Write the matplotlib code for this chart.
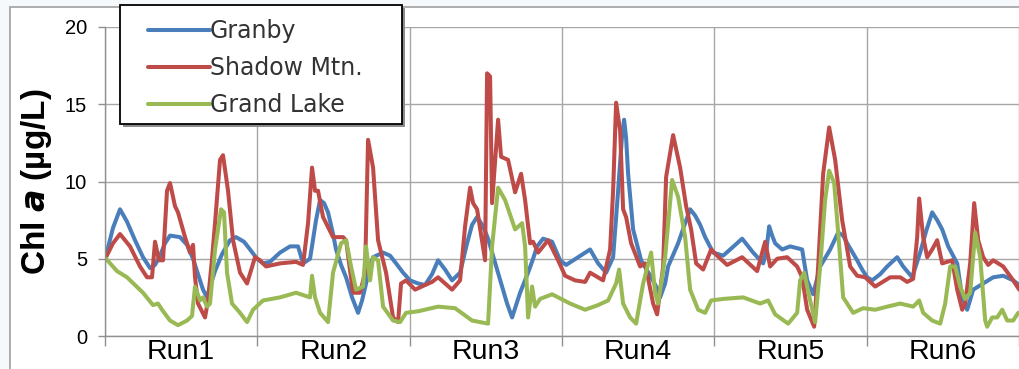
import numpy as np
import matplotlib
matplotlib.use("Agg")
import matplotlib.pyplot as plt
from matplotlib.patches import Rectangle

# sample index along the sequence of six runs (~152 samples per run)
run_len = 152.3
run_names = ["Run1", "Run2", "Run3", "Run4", "Run5", "Run6"]

granby_x = [1, 8, 15, 22, 30, 38, 45, 50, 55, 60,
            65, 75, 82, 88, 93, 98, 102, 105, 110, 117,
            125, 131, 139, 145, 152, 158, 165, 175, 185, 193,
            198, 205, 211, 215, 219, 223, 228, 231, 236, 241,
            247, 253, 257, 261, 265, 268, 278, 285, 291, 298,
            305, 313, 320, 327, 333, 340, 347, 355, 362, 367,
            372, 378, 383, 387, 392, 397, 402, 407, 411, 415,
            423, 428, 432, 438, 447, 455, 461, 473, 485, 493,
            501, 508, 513, 517, 519, 521, 523, 528, 536, 546,
            551, 555, 560, 563, 573, 580, 585, 590, 595, 600,
            608, 618, 625, 637, 648, 658, 661, 664, 667, 670,
            677, 685, 697, 702, 708, 715, 725, 733, 738, 742,
            752, 757, 762, 767, 775, 782, 792, 798, 807, 815,
            821, 827, 832, 837, 843, 852, 857, 862, 868, 878,
            888, 898, 908, 914]
granby = [5.2, 7.0, 8.2, 7.4, 6.2, 5.1, 4.4, 4.6, 5.2, 6.0,
          6.5, 6.4, 5.9, 5.0, 4.0, 3.0, 2.5, 3.2, 4.2, 5.3,
          6.2, 6.4, 6.1, 5.6, 5.0, 4.7, 4.8, 5.4, 5.8, 5.8,
          4.7, 5.0, 7.5, 8.8, 8.6, 8.0, 6.6, 5.6, 4.6, 3.8,
          2.5, 1.5, 2.3, 3.4, 4.5, 5.1, 5.4, 5.2, 4.7, 4.1,
          3.6, 3.4, 3.3, 4.0, 4.9, 4.3, 3.6, 4.1, 6.0, 7.2,
          7.7, 7.1, 6.3, 5.4, 4.3, 3.2, 2.1, 1.2, 2.0, 2.8,
          4.1, 5.0, 5.8, 6.3, 6.1, 4.9, 4.6, 5.1, 5.6, 4.7,
          4.1, 5.1, 9.4, 13.0, 14.0, 12.8, 10.5, 6.9, 4.9, 3.8,
          3.2, 2.5, 3.4, 4.5, 6.0, 7.3, 8.2, 7.8, 7.2, 6.4,
          5.4, 5.2, 5.6, 6.3, 5.4, 4.7, 5.4, 7.1, 6.5, 6.0,
          5.6, 5.8, 5.6, 3.6, 2.7, 4.5, 5.6, 6.7, 6.5, 6.0,
          4.9, 4.3, 3.8, 3.6, 4.0, 4.5, 5.1, 4.5, 3.8, 5.4,
          6.8, 8.0, 7.5, 6.9, 5.8, 4.7, 2.5, 1.7, 3.0, 3.4,
          3.8, 3.9, 3.6, 3.3]

shadow_x = [1, 8, 15, 25, 35, 42, 47, 50, 54, 58,
            62, 65, 70, 73, 80, 85, 88, 90, 93, 100,
            103, 107, 110, 115, 118, 123, 128, 135, 142, 150,
            155, 161, 175, 191, 198, 203, 207, 210, 213, 218,
            228, 238, 241, 248, 255, 260, 263, 268, 273, 281,
            288, 293, 296, 301, 310, 320, 327, 333, 340, 347,
            355, 360, 365, 368, 372, 380, 382, 385, 387, 393,
            396, 403, 410, 416, 420, 425, 428, 433, 443, 453,
            460, 470, 480, 485, 498, 505, 508, 511, 515, 518,
            521, 526, 535, 540, 548, 552, 558, 561, 568, 575,
            581, 586, 591, 598, 606, 612, 622, 637, 652, 660,
            665, 672, 682, 692, 697, 702, 709, 713, 718, 724,
            730, 737, 745, 752, 760, 770, 785, 795, 802, 808,
            812, 814, 818, 822, 827, 832, 837, 847, 852, 857,
            860, 865, 869, 873, 878, 883, 888, 898, 908, 914]
shadow = [5.1, 6.0, 6.6, 5.8, 4.5, 3.8, 3.8, 6.1, 4.9, 4.9,
          9.4, 9.9, 8.4, 8.0, 6.4, 5.4, 5.9, 3.8, 2.1, 1.2,
          2.3, 5.0, 7.3, 11.4, 11.7, 9.4, 6.2, 4.1, 3.4, 5.1,
          4.9, 4.5, 4.7, 4.8, 4.6, 7.3, 10.9, 9.4, 9.4, 7.7,
          6.4, 6.4, 6.2, 2.8, 2.8, 4.1, 12.7, 10.9, 6.2, 4.1,
          1.2, 0.9, 3.4, 3.6, 3.0, 3.3, 3.5, 3.8, 3.4, 3.0,
          3.6, 7.1, 9.6, 8.6, 8.2, 4.9, 17.0, 16.8, 8.6, 14.0,
          11.6, 11.4, 9.3, 10.5, 8.8, 6.0, 6.1, 5.4, 6.2, 4.9,
          3.9, 3.6, 3.5, 4.1, 3.6, 5.6, 9.4, 15.1, 13.3, 8.2,
          7.7, 6.0, 4.5, 4.7, 2.1, 1.4, 4.5, 10.3, 13.0, 10.9,
          8.4, 6.9, 4.7, 4.3, 5.6, 5.2, 4.6, 5.1, 4.2, 6.1,
          4.5, 5.0, 5.1, 4.5, 3.8, 1.7, 0.6, 4.5, 10.5, 13.5,
          11.4, 7.5, 4.5, 3.9, 3.8, 3.2, 3.8, 3.8, 3.5, 3.7,
          6.4, 8.9, 6.4, 5.1, 5.6, 6.2, 4.7, 4.9, 3.0, 1.7,
          2.1, 4.7, 8.6, 6.2, 5.1, 4.6, 4.9, 4.5, 3.6, 3.0]

grand_x = [1, 12, 22, 38, 48, 53, 57, 65, 73, 82,
           87, 90, 95, 98, 102, 105, 110, 116, 119, 122,
           127, 135, 142, 148, 158, 175, 191, 205, 207, 210,
           215, 223, 228, 236, 241, 246, 251, 258, 261, 265,
           268, 273, 278, 288, 295, 301, 313, 333, 350, 367,
           383, 387, 393, 400, 410, 417, 420, 423, 427, 430,
           435, 447, 465, 480, 493, 503, 511, 514, 518, 525,
           531, 538, 546, 550, 553, 560, 567, 573, 580, 585,
           593, 600, 606, 618, 638, 655, 663, 670, 683, 692,
           695, 699, 705, 710, 715, 720, 724, 729, 733, 738,
           748, 758, 770, 782, 795, 808, 814, 818, 827, 835,
           840, 845, 850, 855, 860, 865, 870, 875, 880, 882,
           887, 892, 897, 902, 908, 913]
grand = [5.0, 4.2, 3.8, 2.8, 2.0, 2.1, 1.7, 1.0, 0.7, 1.0,
         1.3, 3.2, 2.3, 2.5, 1.9, 2.1, 5.6, 8.2, 8.0, 4.1,
         2.1, 1.5, 0.9, 1.7, 2.3, 2.5, 2.8, 2.5, 3.9, 2.5,
         1.5, 0.9, 4.1, 6.0, 6.2, 4.5, 3.0, 3.2, 5.8, 3.6,
         5.1, 4.9, 1.9, 1.0, 0.9, 1.5, 1.6, 1.9, 1.8, 1.0,
         0.8, 5.8, 9.6, 8.8, 6.9, 7.3, 5.8, 1.2, 3.2, 1.9,
         2.4, 2.7, 2.1, 1.7, 2.0, 2.3, 3.4, 4.3, 2.1, 1.2,
         0.8, 3.4, 5.4, 2.8, 2.1, 5.1, 10.1, 9.0, 6.4, 3.0,
         1.7, 1.5, 2.3, 2.4, 2.5, 2.1, 2.3, 1.4, 0.8, 1.5,
         3.6, 4.1, 2.3, 0.9, 4.5, 8.8, 10.7, 9.9, 6.7, 2.5,
         1.5, 1.8, 1.7, 1.9, 2.1, 1.9, 2.3, 1.5, 1.0, 0.8,
         2.1, 4.5, 4.5, 3.2, 2.4, 2.8, 6.7, 5.1, 1.0, 0.6,
         1.2, 1.2, 1.7, 1.0, 1.0, 1.5]

c_blue = "#4a7ebb"
c_red = "#be4b48"
c_green = "#98b954"

W, H = 1019, 369
fig = plt.figure(figsize=(W / 100, H / 100), dpi=100, facecolor="#f5f9fc")
# white chart frame behind everything
frame = Rectangle((10 / W, -0.05), 1.0, 1.05 - 7 / H, transform=fig.transFigure,
                  facecolor="white", edgecolor="#a0a0a0", lw=1.2, zorder=-10)
fig.patches.append(frame)

ax = fig.add_axes([105 / W, 1 - 336 / H, 914 / W, 309 / H])
ax.set_zorder(2)
ax.set_facecolor("none")

total = run_len * len(run_names)
kw = dict(lw=2.9, solid_joinstyle="round", solid_capstyle="round")
l1, = ax.plot(granby_x, granby, color=c_blue, label="Granby", **kw)
l2, = ax.plot(shadow_x, shadow, color=c_red, label="Shadow Mtn.", **kw)
l3, = ax.plot(grand_x, grand, color=c_green, label="Grand Lake", **kw)

ax.set_xlim(0, total)
ax.set_ylim(0, 20)
ax.set_yticks([0, 5, 10, 15, 20])
bounds = [run_len * i for i in range(len(run_names) + 1)]
ax.set_xticks(bounds)
ax.set_xticklabels([])
ax.set_xticks([run_len * (i + 0.5) for i in range(len(run_names))], minor=True)
ax.set_xticklabels(run_names, minor=True, fontsize=20.5, family="Liberation Sans")
ax.tick_params(axis="x", which="minor", length=0, pad=2)
ax.tick_params(axis="x", which="major", length=7, color="#909090", width=1)
ax.tick_params(axis="y", length=5, color="#909090", width=1, pad=8, labelsize=14.5)
for lab in ax.get_yticklabels():
    lab.set_family("Liberation Sans")

ax.grid(True, which="major", color="#a6a6a6", lw=1)
for s in ["top", "right"]:
    ax.spines[s].set_visible(False)
for s in ["left", "bottom"]:
    ax.spines[s].set_color("#909090")
    ax.spines[s].set_linewidth(1)

ax.set_ylabel("Chl $\\mathbfit{a}$ (µg/L)", fontsize=24, fontweight="bold", family="Liberation Sans",
              labelpad=8)

# legend box with a small drop shadow, legend entries placed inside it
lx0, ly0, lx1, ly1 = 120, 5, 402, 124
fig.patches.append(Rectangle(((lx0 + 3) / W, 1 - (ly1 + 3) / H), (lx1 - lx0) / W, (ly1 - ly0) / H,
                             transform=fig.transFigure, facecolor="#8c8c8c", edgecolor="none", zorder=3))
fig.patches.append(Rectangle((lx0 / W, 1 - ly1 / H), (lx1 - lx0) / W, (ly1 - ly0) / H,
                             transform=fig.transFigure, facecolor="white", edgecolor="black",
                             lw=1.3, zorder=3.1))
leg = fig.legend(handles=[l1, l2, l3], loc="upper left", bbox_to_anchor=(148 / W, 1 - 19 / H),
                 frameon=False, handlelength=2.63, handletextpad=0.0, labelspacing=0.55,
                 borderpad=0, borderaxespad=0, prop={"family": "DejaVu Sans", "size": 17})
leg.set_zorder(4)
for t in leg.get_texts():
    t.set_color("#333333")

fig.savefig("out.png", dpi=100, facecolor=fig.get_facecolor())
